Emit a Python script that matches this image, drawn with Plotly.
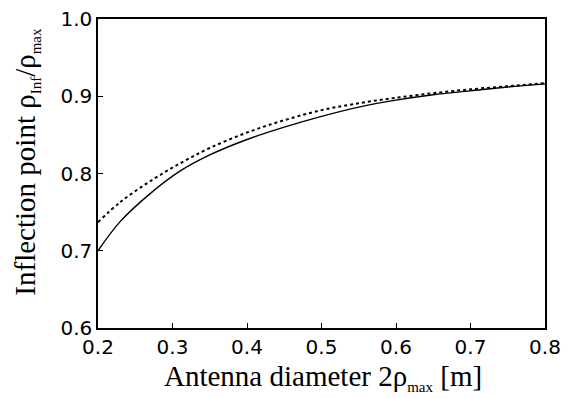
import plotly.graph_objects as go

# Antenna diameter 2*rho_max [m]
diameter = [0.20, 0.23, 0.27, 0.31, 0.35, 0.40, 0.45, 0.50, 0.55, 0.60, 0.65, 0.70, 0.75, 0.80]
# Inflection point rho_Inf / rho_max (solid curve)
solid_vals = [0.700, 0.738, 0.774, 0.803, 0.824, 0.844, 0.860, 0.874, 0.886, 0.895, 0.902, 0.907, 0.912, 0.916]
# Inflection point rho_Inf / rho_max (dotted curve)
dotted_vals = [0.737, 0.763, 0.790, 0.813, 0.833, 0.853, 0.869, 0.882, 0.891, 0.898, 0.904, 0.909, 0.913, 0.917]

x_ticks = [0.2, 0.3, 0.4, 0.5, 0.6, 0.7, 0.8]
y_ticks = [0.6, 0.7, 0.8, 0.9, 1.0]

x_title = "Antenna diameter 2ρ<sub><span style='font-size:15px'>max</span></sub> [m]"
y_title = ("Inflection point ρ<sub><span style='font-size:15px'>Inf</span></sub>"
           "/ρ<sub><span style='font-size:15px'>max</span></sub>")

fig = go.Figure()
fig.add_trace(go.Scatter(x=diameter, y=dotted_vals, mode="lines",
                         line=dict(color="black", width=2, dash="dot", shape="spline", smoothing=1),
                         showlegend=False))
fig.add_trace(go.Scatter(x=diameter, y=solid_vals, mode="lines",
                         line=dict(color="black", width=1.4, shape="spline", smoothing=1),
                         showlegend=False))

tickfont = dict(family="DejaVu Sans", size=20, color="black")
titlefont = dict(family="Liberation Serif", size=29, color="black")

# page body keeps an 8px default margin, so the figure is 8px smaller
fig.update_layout(
    width=569, height=390,
    margin=dict(l=90, r=32, t=11, b=70, autoexpand=False),
    paper_bgcolor="white", plot_bgcolor="white",
    xaxis=dict(range=[0.2, 0.8], tickvals=x_ticks,
               ticktext=[f"{v:.1f}" for v in x_ticks], automargin=False,
               ticklabeloverflow="allow",
               ticks="inside", ticklen=5, tickwidth=1, tickcolor="black",
               showline=True, linecolor="black", linewidth=1.5, mirror=True,
               showgrid=False, zeroline=False, tickfont=tickfont),
    yaxis=dict(range=[0.6, 1.0], tickvals=y_ticks,
               ticktext=[f"{v:.1f}" for v in y_ticks], automargin=False,
               ticklabeloverflow="allow",
               ticks="inside", ticklen=5, tickwidth=1, tickcolor="black",
               showline=True, linecolor="black", linewidth=1.5, mirror=True,
               showgrid=False, zeroline=False, tickfont=tickfont),
    annotations=[
        dict(text=x_title, xref="paper", yref="paper", x=0.503, y=-0.16,
             xanchor="center", yanchor="middle", showarrow=False, font=titlefont),
        dict(text=y_title, xref="paper", yref="paper", x=-0.162, y=0.537,
             xanchor="center", yanchor="middle", textangle=-90, showarrow=False, font=titlefont),
    ],
)

fig.write_html("out.html")
